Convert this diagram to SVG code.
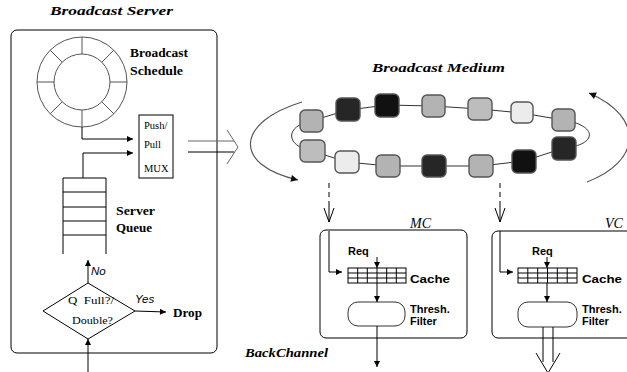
<svg xmlns="http://www.w3.org/2000/svg" width="627" height="372" viewBox="0 0 627 372">
<style>
.ln{fill:none;stroke:#000;stroke-width:1}
.gl{fill:none;stroke:#555;stroke-width:1}
.ser{font-family:"Liberation Serif","DejaVu Serif",serif;fill:#000;font-size:10.5px}
.ttl{font-family:"Liberation Serif","DejaVu Serif",serif;font-style:italic;font-weight:bold;fill:#000}
.it{font-family:"Liberation Serif","DejaVu Serif",serif;font-style:italic;fill:#000;font-size:14px}
.sb{font-family:"Liberation Serif","DejaVu Serif",serif;font-weight:bold;fill:#000;font-size:11.5px}
.sans{font-family:"Liberation Sans",Arial,sans-serif;font-weight:bold;font-size:11px;fill:#000}
.ital{font-family:"Liberation Sans",Arial,sans-serif;font-style:italic;font-size:11.5px;fill:#000}
.sq{stroke:#555;stroke-width:1.4}
.g1{fill:#b3b3b3}.g2{fill:#262626}.g3{fill:#111}.g4{fill:#ececec}.g5{fill:#bdbdbd}
.box{fill:#fff;stroke:#000;stroke-width:1}
</style>
<defs>
<marker id="ah" viewBox="0 0 10 10" refX="10" refY="5" markerWidth="7" markerHeight="6" markerUnits="userSpaceOnUse" orient="auto"><path d="M0,0 L10,5 L0,10 Z" fill="#000"/></marker>
<marker id="ahg" viewBox="0 0 10 10" refX="10" refY="5" markerWidth="10" markerHeight="7" markerUnits="userSpaceOnUse" orient="auto"><path d="M0,0 L10,5 L0,10 Z" fill="#111"/></marker>
</defs>
<rect width="627" height="372" fill="#fff"/>

<g id="broadcast-server">
<text class="ttl" x="50" y="15" font-size="12" textLength="123" lengthAdjust="spacingAndGlyphs">Broadcast Server</text>
<rect class="box" x="11" y="30" width="206" height="323" rx="6"/>
</g>

<g id="broadcast-schedule">
<circle cx="82" cy="82" r="45" class="gl"/>
<circle cx="82" cy="82" r="28" class="gl"/>
<path class="gl" d="M82,37V54 M82,110V127 M37,82H54 M110,82H127 M101.8,62.2L113.8,50.2 M62.2,62.2L50.2,50.2 M101.8,101.8L113.8,113.8 M62.2,101.8L50.2,113.8"/>
<text class="sb" x="130" y="57" textLength="58" lengthAdjust="spacingAndGlyphs">Broadcast</text>
<text class="sb" x="130" y="75" textLength="53" lengthAdjust="spacingAndGlyphs">Schedule</text>
</g>

<g id="mux">
<rect class="box" x="139" y="115" width="34" height="63"/>
<text class="ser" x="144" y="129">Push/</text>
<text class="ser" x="144" y="148">Pull</text>
<text class="ser" x="144" y="172">MUX</text>
</g>

<g id="server-queue">
<path class="ln" d="M63,178V254 M106,178V254 M63,178H106 M63,192H106 M63,207H106 M63,221H106 M63,235H106"/>
<text class="sb" x="116" y="215" textLength="39" lengthAdjust="spacingAndGlyphs">Server</text>
<text class="sb" x="116" y="232" textLength="36" lengthAdjust="spacingAndGlyphs">Queue</text>
</g>

<g id="decision">
<polygon class="box" points="43,311 88,283 135,311 88,339" stroke="#333"/>
<text class="ser" x="68" y="304" xml:space="preserve" textLength="46" lengthAdjust="spacingAndGlyphs">Q  Full?/</text>
<text class="ser" x="72" y="324" textLength="41" lengthAdjust="spacingAndGlyphs">Double?</text>
</g>

<g id="drop">
<text class="sb" x="173" y="317" textLength="29" lengthAdjust="spacingAndGlyphs">Drop</text>
</g>

<g id="broadcast-medium">
<text class="ttl" x="372" y="72" font-size="13" textLength="133" lengthAdjust="spacingAndGlyphs">Broadcast Medium</text>
<path fill="none" stroke="#333" stroke-width="1" d="M311,121 L348,110 L387,105 L433,106 L480,109 L522,113 L563,120 C598,125 598,145 564,148 L524,161 L481,166 L434,166 L388,166 L347,162 L312,151 C285,146 285,126 311,121 Z"/>
<rect class="sq g1" x="300" y="110" width="23" height="22" rx="5"/>
<rect class="sq g2" x="336" y="98" width="24" height="23" rx="5"/>
<rect class="sq g3" x="375" y="94" width="24" height="23" rx="5"/>
<rect class="sq g1" x="422" y="95" width="23" height="22" rx="5"/>
<rect class="sq g5" x="468" y="98" width="24" height="22" rx="5"/>
<rect class="sq g4" x="511" y="102" width="22" height="21" rx="5"/>
<rect class="sq g1" x="552" y="109" width="23" height="22" rx="5"/>
<rect class="sq g2" x="552" y="137" width="24" height="23" rx="5"/>
<rect class="sq g3" x="512" y="150" width="24" height="23" rx="5"/>
<rect class="sq g1" x="469" y="155" width="24" height="22" rx="5"/>
<rect class="sq g2" x="422" y="155" width="24" height="22" rx="5"/>
<rect class="sq g1" x="376" y="155" width="24" height="22" rx="5"/>
<rect class="sq g4" x="335" y="151" width="24" height="22" rx="5"/>
<rect class="sq g5" x="300" y="140" width="25" height="22" rx="5"/>
</g>

<g id="mc">
<rect class="box" x="320" y="230" width="147" height="108" rx="6"/>
<text class="it" x="410" y="228">MC</text>
<text class="sans" x="348" y="255">Req</text>
<rect x="348" y="268" width="58" height="15" fill="#fff" stroke="#000"/>
<path class="ln" d="M357.7,268V283 M367.3,268V283 M377,268V283 M386.7,268V283 M396.3,268V283 M348,273H406 M348,278H406"/>
<text class="sans" x="410" y="283" textLength="40" lengthAdjust="spacingAndGlyphs">Cache</text>
<rect x="348" y="302" width="57" height="24" rx="10" fill="#fff" stroke="#333"/>
<text class="sans" x="410" y="313">Thresh.</text>
<text class="sans" x="410" y="325">Filter</text>
</g>

<g id="vc">
<rect class="box" x="492" y="231" width="150" height="107" rx="6"/>
<text class="it" x="605" y="228">VC</text>
<text class="sans" x="532" y="255">Req</text>
<rect x="518" y="268" width="59" height="15" fill="#fff" stroke="#000"/>
<path class="ln" d="M527.8,268V283 M537.7,268V283 M547.5,268V283 M557.3,268V283 M567.2,268V283 M518,273H577 M518,278H577"/>
<text class="sans" x="582" y="283" textLength="40" lengthAdjust="spacingAndGlyphs">Cache</text>
<rect x="518" y="302" width="59" height="25" rx="10" fill="#fff" stroke="#333"/>
<text class="sans" x="582" y="313">Thresh.</text>
<text class="sans" x="582" y="325">Filter</text>
</g>

<g id="backchannel">
<text class="ttl" x="245" y="357" font-size="12" textLength="83" lengthAdjust="spacingAndGlyphs">BackChannel</text>
</g>

<g id="connectors">
<path class="ln" d="M82,127V139H133" marker-end="url(#ah)"/>
<path class="ln" d="M83,178V153H133" marker-end="url(#ah)"/>
<path class="ln" d="M88,283V260" marker-end="url(#ah)"/>
<text class="ital" x="91" y="275">No</text>
<path class="ln" d="M135,311L166,312" marker-end="url(#ah)"/>
<text class="ital" x="135" y="303">Yes</text>
<path class="ln" d="M88,372V339" marker-end="url(#ah)"/>
<path d="M188,141H234" stroke="#666" stroke-width="1" fill="none"/>
<path d="M188,152H234" stroke="#000" stroke-width="1" fill="none"/>
<path d="M227,130L238,147L227,164" stroke="#666" stroke-width="1" fill="none"/>
<path d="M302,102 C236,122 232,165 298,180" stroke="#555" stroke-width="1.2" fill="none" marker-end="url(#ahg)"/>
<path d="M587,182 C640,162 646,118 589,93" stroke="#555" stroke-width="1.2" fill="none" marker-end="url(#ahg)"/>
<path class="ln" d="M329,183V204" stroke-dasharray="5,4" stroke-width="1.5"/>
<path class="ln" d="M329,204V222 M324,208L329,222L334,208" stroke-width="1.3"/>
<path class="ln" d="M329,231V272H342" marker-end="url(#ah)"/>
<path class="ln" d="M377,257V268" marker-end="url(#ah)"/>
<path class="ln" d="M377,283V302" marker-end="url(#ah)"/>
<path class="ln" d="M377,326V367" marker-end="url(#ah)"/>
<path class="ln" d="M500,183V204" stroke-dasharray="5,4" stroke-width="1.5"/>
<path class="ln" d="M500,204V222 M495,208L500,222L505,208" stroke-width="1.3"/>
<path class="ln" d="M500,231V272H513" marker-end="url(#ah)"/>
<path class="ln" d="M547,257V268" marker-end="url(#ah)"/>
<path class="ln" d="M547,283V302" marker-end="url(#ah)"/>
<path class="ln" d="M543,327V362 M553,327V362 M536,353L548,373L560,353"/>
</g>
</svg>
